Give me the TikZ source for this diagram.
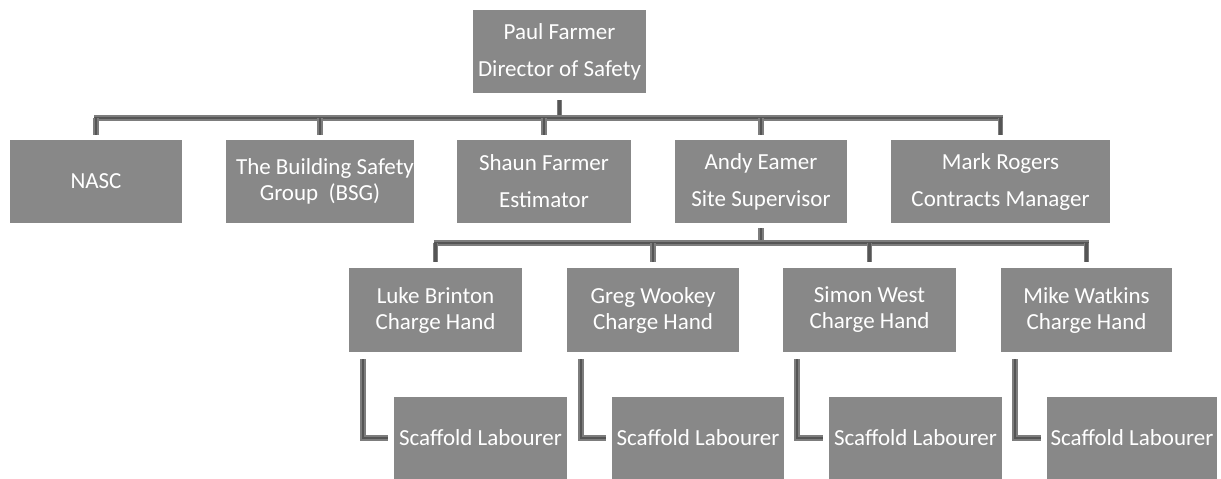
\documentclass[tikz,border=0pt]{standalone}
\usepackage{fontspec}
\setmainfont{Carlito}
\definecolor{boxgray}{RGB}{136,136,136}
\definecolor{lineouter}{RGB}{125,125,125}
\definecolor{lineinner}{RGB}{85,85,85}
\begin{document}
\begin{tikzpicture}[x=1pt,y=-1pt,
  box/.style={fill=boxgray, draw=none, inner sep=0pt, text=white, align=center,
    font=\fontsize{23}{26}\selectfont, minimum height=83pt},
  widebox/.style={box, font=\fontsize{23}{37}\selectfont},
  conn/.style={draw=lineinner, line width=2.5pt,
    preaction={draw=lineouter, line width=5.5pt}}]
\useasboundingbox (0,0) rectangle (1221,479);
% top
\node[widebox, minimum width=173pt] (pf) at (559.5,51.5) {Paul Farmer\\Director of Safety};
% row 2
\node[box, minimum width=172pt] (nasc) at (96,181.5) {NASC};
\node[box, minimum width=184pt] (bsg) at (320,181.5) {\hspace*{10pt}The Building Safety\\Group\ \ (BSG)};
\node[widebox, minimum width=174pt] (shaun) at (544,181.5) {Shaun Farmer\\Estimator};
\node[widebox, minimum width=172pt] (andy) at (761,181.5) {Andy Eamer\\Site Supervisor};
\node[widebox, minimum width=219pt] (mark) at (1000.5,181.5) {Mark Rogers\\Contracts Manager};
% row 3
\node[box, minimum width=173pt, minimum height=84pt] (luke) at (435.5,310) {Luke Brinton\\Charge Hand};
\node[box, minimum width=172pt, minimum height=84pt] (greg) at (653,310) {Greg Wookey\\Charge Hand};
\node[box, minimum width=173pt, minimum height=84pt] (simon) at (869.5,310) {Simon West\\Charge Hand};
\node[box, minimum width=171pt, minimum height=84pt] (mike) at (1086.5,310) {Mike Watkins\\Charge Hand};
% row 4
\node[box, minimum width=173pt, minimum height=82pt] (s1) at (480.5,438) {Scaffold Labourer};
\node[box, minimum width=172pt, minimum height=82pt] (s2) at (698,438) {Scaffold Labourer};
\node[box, minimum width=173pt, minimum height=82pt] (s3) at (915.5,438) {Scaffold Labourer};
\node[box, minimum width=170pt, minimum height=82pt] (s4) at (1132,438) {Scaffold Labourer};
% connectors level 1
\coordinate (bar1) at (0,118);
\draw[conn] ([yshift=-7pt]pf.south) -- (pf.south |- bar1);
\draw[conn] ([xshift=-2pt]nasc.north |- bar1) -- ([xshift=2pt]mark.north |- bar1);
\foreach \n in {nasc,bsg,shaun,andy,mark}
  \draw[conn] (\n.north |- bar1) -- ([yshift=5pt]\n.north);
% connectors level 2
\coordinate (bar2) at (0,243);
\draw[conn] ([yshift=-5pt]andy.south) -- (andy.south |- bar2);
\draw[conn] ([xshift=-2pt]luke.north |- bar2) -- ([xshift=2pt]mike.north |- bar2);
\foreach \n in {luke,greg,simon,mike}
  \draw[conn] (\n.north |- bar2) -- ([yshift=6pt]\n.north);
% L connectors
\draw[conn] ([xshift=14pt,yshift=-7pt]luke.south west) |- ([xshift=-6pt]s1.west);
\draw[conn] ([xshift=14pt,yshift=-7pt]greg.south west) |- ([xshift=-6pt]s2.west);
\draw[conn] ([xshift=14pt,yshift=-7pt]simon.south west) |- ([xshift=-6pt]s3.west);
\draw[conn] ([xshift=14pt,yshift=-7pt]mike.south west) |- ([xshift=-6pt]s4.west);
\end{tikzpicture}
\end{document}
